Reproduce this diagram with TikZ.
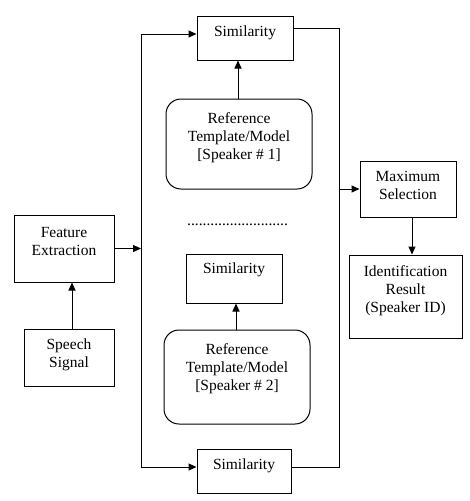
\documentclass[tikz,border=0pt]{standalone}
\usepackage{fontspec}
\setmainfont{Liberation Serif}
\usetikzlibrary{arrows.meta}
\begin{document}
\begin{tikzpicture}[x=1pt,y=-1pt,
  box/.style={draw, line width=1pt, inner sep=0pt},
  rbox/.style={box, rounded corners=15pt},
  txt/.style={align=center, inner sep=0pt, font=\fontsize{15.5}{18}\selectfont},
  arr/.style={line width=1pt, -{Triangle[length=8pt,width=7pt]}},
  ln/.style={line width=1pt}]
\useasboundingbox (0,0) rectangle (469,501);

% boxes
\node[box, minimum width=96pt, minimum height=44pt] (sim1) at (245,38) {};
\node[txt] (sim1t) at (245,33) {Similarity};

\node[rbox, minimum width=146pt, minimum height=90pt] (ref1) at (239,144) {};
\node[txt] (ref1t) at (239,138) {Reference\\Template/Model\\{[Speaker \# 1]}};

\node[txt] (dots) at (237.5,225) {..........................};

\node[box, minimum width=96pt, minimum height=49pt] (sim2) at (234,278.5) {};
\node[txt] (sim2t) at (234,270) {Similarity};

\node[rbox, minimum width=146pt, minimum height=94pt] (ref2) at (237,377) {};
\node[txt] (ref2t) at (237,369) {Reference\\Template/Model\\{[Speaker \# 2]}};

\node[box, minimum width=94pt, minimum height=44pt] (sim3) at (244,471) {};
\node[txt] (sim3t) at (244,466) {Similarity};

\node[box, minimum width=100pt, minimum height=67pt] (fe) at (64,248.5) {};
\node[txt] (fet) at (64,241) {Feature\\Extraction};

\node[box, minimum width=90pt, minimum height=57pt] (ss) at (69,357.5) {};
\node[txt] (sst) at (69,354.5) {Speech\\Signal};

\node[box, minimum width=96pt, minimum height=56pt] (max) at (408,189) {};
\node[txt] (maxt) at (408,185) {Maximum\\Selection};

\node[box, minimum width=113pt, minimum height=83pt] (id) at (405.5,296.5) {};
\node[txt] (idt) at (405.5,291) {Identification\\Result\\(Speaker ID)};

% buses
\coordinate (lbt) at (141,34);
\coordinate (lbb) at (141,467);
\coordinate (rbt) at (339,28);
\coordinate (rbb) at (339,467);

\draw[ln] (lbt) -- (lbb);
\draw[arr] (lbt) -- (lbt -| sim1.west);
\draw[arr] (lbb) -- (lbb -| sim3.west);
\draw[arr] (fe.east) -- (fe.east -| lbt);
\draw[ln] (sim1.east |- rbt) -- (rbt) -- (rbb) -- (rbb -| sim3.east);
\draw[arr] (rbt |- max.west) -- (max.west);
\draw[arr] ([xshift=4pt]max.south) -- ([xshift=4pt]max.south |- id.north);
\draw[arr] ([xshift=3pt]ss.north) -- ([xshift=3pt]ss.north |- fe.south);
\draw[arr] ([xshift=-1pt]ref1.north) -- ([xshift=-1pt]ref1.north |- sim1.south);
\draw[arr] ([xshift=-1pt]ref2.north) -- ([xshift=-1pt]ref2.north |- sim2.south);
\end{tikzpicture}
\end{document}
